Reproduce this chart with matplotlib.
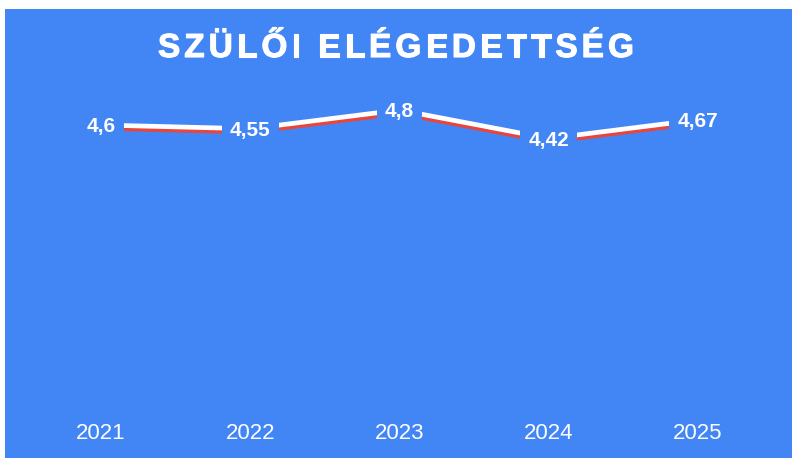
import matplotlib
matplotlib.use("Agg")
import matplotlib.pyplot as plt
import matplotlib.patheffects as pe
from matplotlib.patches import Rectangle

plt.rcParams['font.family'] = ['Liberation Sans', 'DejaVu Sans']

# data
years = ['2021', '2022', '2023', '2024', '2025']
values = [4.6, 4.55, 4.8, 4.42, 4.67]
value_labels = ['4,6', '4,55', '4,8', '4,42', '4,67']
title = 'SZÜLŐI ELÉGEDETTSÉG'

BLUE = '#4286f5'
RED = '#e8453c'
W, H = 792, 458

fig = plt.figure(figsize=(W / 100, H / 100), dpi=100)
fig.patch.set_facecolor('white')

# blue card behind everything
fig.patches.append(Rectangle((5 / W, 0), 1 - 5 / W, 1 - 9 / H,
                             transform=fig.transFigure, facecolor=BLUE,
                             edgecolor='none', zorder=-5))

# plot area in pixels: left 26.5, right 772.5, top 80, bottom 400
ax = fig.add_axes([26.5 / W, (H - 400) / H, 746 / W, 320 / H])
ax.set_zorder(2)
ax.set_facecolor('none')
for s in ax.spines.values():
    s.set_visible(False)

x = list(range(len(years)))
ax.plot(x, values, color='white', lw=3.4, solid_capstyle='butt', zorder=3,
        path_effects=[pe.SimpleLineShadow(offset=(0, -2.3), shadow_color=RED,
                                          alpha=1.0),
                      pe.Normal()])

# value labels sit on the line, blue box hides the line behind them
for xi, v, lab in zip(x, values, value_labels):
    ax.annotate(lab, (xi, v), xytext=(0, -1.2), textcoords='offset points',
                color='white', fontsize=15, fontweight='bold',
                ha='center', va='center', zorder=5,
                bbox=dict(boxstyle='square,pad=0.4', facecolor=BLUE,
                          edgecolor='none'))

ax.set_xlim(-0.5, len(years) - 0.5)
ax.set_ylim(0.933, 5.2)
ax.set_yticks([])
ax.set_xticks(x)
ax.set_xticklabels(years, color='white', fontsize=16)
ax.tick_params(axis='x', length=0, pad=16.5)

# title with letter spacing, drawn char by char
fig.canvas.draw()
r = fig.canvas.get_renderer()
tsize = 24


def text_w(s):
    t = fig.text(0, 0, s, fontsize=tsize, fontweight='bold')
    w = t.get_window_extent(r).width
    t.remove()
    return w


ref = text_w('X')
adv = [text_w(title[:i] + 'X') - ref for i in range(len(title) + 1)]
target = 476
track = (target - adv[-1]) / (len(title) - 1)
x0 = 396 - target / 2
for i, ch in enumerate(title):
    if ch == ' ':
        continue
    fig.text((x0 + adv[i] + i * track) / W, (H - 57) / H, ch,
             fontsize=tsize, fontweight='bold', color='white',
             ha='left', va='baseline', zorder=3,
             path_effects=[pe.withStroke(linewidth=0.8, foreground='white')])

fig.savefig('out.png', dpi=100, facecolor=fig.get_facecolor())
